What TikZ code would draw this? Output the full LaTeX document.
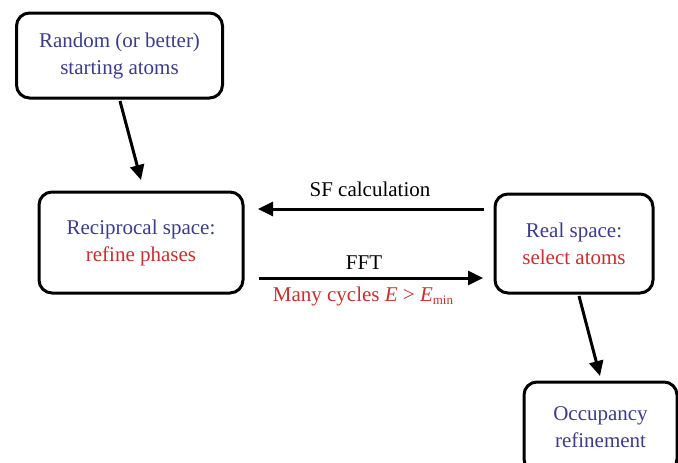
\documentclass[tikz,border=0pt]{standalone}
\usepackage{fontspec}
\setmainfont{Liberation Serif}
\usetikzlibrary{arrows.meta}
\definecolor{txtblue}{HTML}{3C3C8A}
\definecolor{txtred}{HTML}{C8302E}
\tikzset{
  box/.style={draw=black, line width=3pt, rounded corners=13pt, align=center,
    inner sep=0pt, font=\fontsize{21}{27}\selectfont, text=txtblue},
  arr/.style={line width=3pt, -{Triangle[length=15pt,width=14pt]}},
  lbl/.style={font=\fontsize{21}{25}\selectfont, inner sep=0pt},
}
\begin{document}
\begin{tikzpicture}[x=1pt,y=-1pt]
\path[use as bounding box, clip] (0,0) rectangle (678,463);
\fill[white] (0,0) rectangle (678,463);
\node[box, minimum width=206pt, minimum height=85pt] (b1) at (119.5,55.5)
  {Random (or better)\\starting atoms};
\node[box, minimum width=204pt, minimum height=101pt] (b2) at (141,242.5)
  {Reciprocal space:\\\textcolor{txtred}{refine phases}};
\node[box, minimum width=158pt, minimum height=99pt] (b3) at (574,243.5)
  {Real space:\\\textcolor{txtred}{select atoms}};
\node[box, minimum width=153pt, minimum height=90pt] (b4) at (600.5,427)
  {Occupancy\\refinement};
% arrows
\coordinate (a1s) at (120,101);
\coordinate (a1e) at (141,180);
\draw[arr] (a1s) -- (a1e);
\coordinate (a2s) at (579,296);
\coordinate (a2e) at (600,376);
\draw[arr] (a2s) -- (a2e);
\coordinate (sfa) at (484,209);
\coordinate (sfb) at (258,209);
\draw[arr] (sfa) -- (sfb);
\coordinate (ffa) at (259,278);
\coordinate (ffb) at (483,278);
\draw[arr] (ffa) -- (ffb);
\node[lbl] (sf) at (370,189) {SF calculation};
\node[lbl] (fft) at (364,263) {FFT};
\node[lbl, text=txtred] (many) at (363,296)
  {Many cycles \textit{E} > \textit{E}\raisebox{-0.35ex}{\fontsize{13}{13}\selectfont min}};
\end{tikzpicture}
\end{document}
